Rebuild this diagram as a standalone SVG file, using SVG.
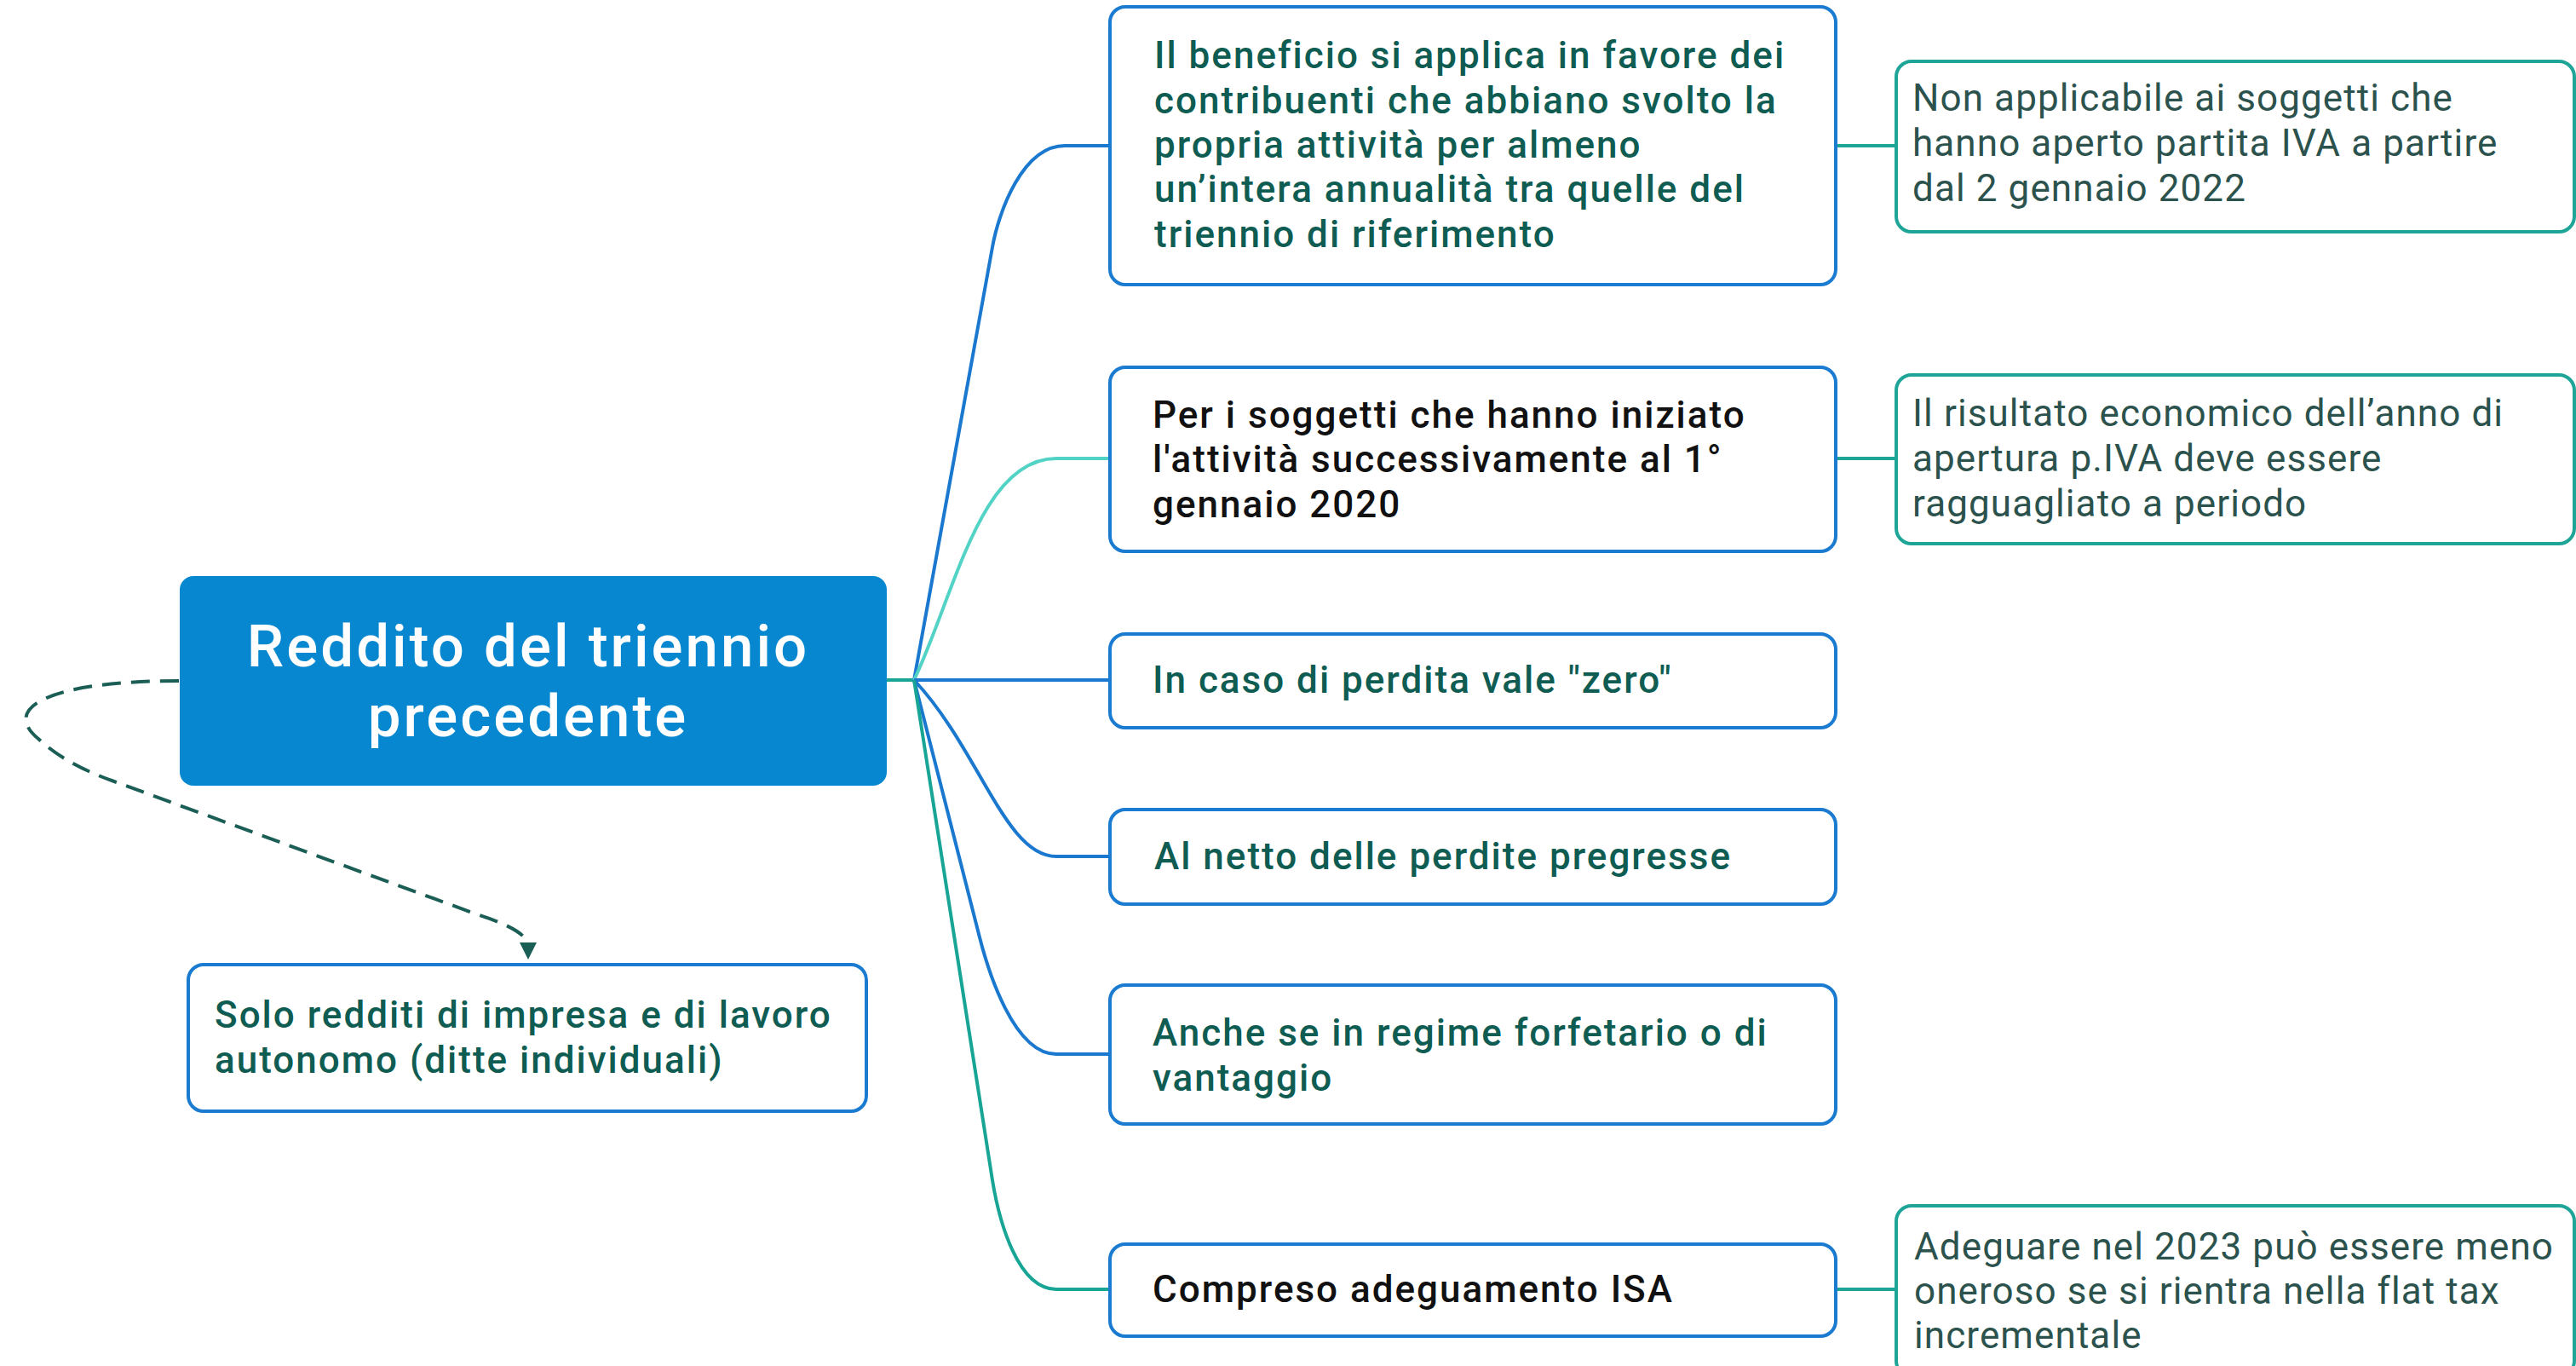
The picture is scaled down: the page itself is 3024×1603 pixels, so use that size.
<svg xmlns="http://www.w3.org/2000/svg" width="3024" height="1603" viewBox="0 0 3024 1603">
<defs>
<style>
.bg{fill:#ffffff}
.box{fill:#ffffff;stroke:#1A7BD0;stroke-width:4}
.rbox{fill:#ffffff;stroke:#1FA597;stroke-width:4}
.central{fill:#0787CF}
.t{font-family:Roboto,"Liberation Sans",sans-serif;font-size:44px;font-weight:500;letter-spacing:2px;fill:#0E5C52}
.tk{fill:#111111}
.tr{font-family:Roboto,"Liberation Sans",sans-serif;font-size:44px;font-weight:400;letter-spacing:1.1px;fill:#2C524D}
.title{font-family:Roboto,"Liberation Sans",sans-serif;font-size:69px;font-weight:500;letter-spacing:3px;fill:#ffffff}
.cb{fill:none;stroke:#1A78CF;stroke-width:4}
.cl{fill:none;stroke:#52D3C6;stroke-width:4}
.ct{fill:none;stroke:#18A595;stroke-width:4}
.cr{fill:none;stroke:#1FA597;stroke-width:4}
.dash{fill:none;stroke:#1B5E55;stroke-width:4;stroke-dasharray:22 12}
</style>
<marker id="arr" viewBox="0 0 10 10" refX="2" refY="5" markerWidth="5" markerHeight="5" orient="auto" markerUnits="strokeWidth">
<path d="M0,0 L10,5 L0,10 Z" fill="#1B5E55"/>
</marker>
</defs>
<rect class="bg" x="0" y="0" width="3024" height="1603"/>

<g id="connectors">
<path class="ct" d="M1041,798 L1073,798"/>
<path class="cb" d="M1073,798 L1165,290 C1172,250 1200,171 1250,171 L1303,171"/>
<path class="cl" d="M1073,798 C1120,700 1150,538 1240,538 L1303,538"/>
<path class="cb" d="M1073,798 L1303,798"/>
<path class="cb" d="M1073,798 C1150,880 1180,1005 1240,1005 L1303,1005"/>
<path class="cb" d="M1073,798 L1150,1100 C1160,1139 1190,1237 1240,1237 L1303,1237"/>
<path class="ct" d="M1073,798 L1165,1385 C1173,1434 1195,1513 1240,1513 L1303,1513"/>
<path class="cr" d="M2155,171 L2226,171"/>
<path class="cr" d="M2155,538 L2226,538"/>
<path class="cr" d="M2155,1513 L2226,1513"/>
<path class="dash" d="M210,799 C60,799 0,830 45,867 C70,890 100,905 134,917 L560,1073 Q620,1092 620,1110" marker-end="url(#arr)"/>
</g>

<g id="central">
<rect class="central" x="211" y="676" width="830" height="246" rx="16"/>
<text class="title" text-anchor="middle"><tspan x="620" y="782">Reddito del triennio</tspan><tspan x="620" y="864">precedente</tspan></text>
</g>

<g id="n1">
<rect class="box" x="1303" y="8" width="852" height="326" rx="18"/>
<text class="t"><tspan x="1355" y="80">Il beneficio si applica in favore dei</tspan><tspan x="1355" y="133">contribuenti che abbiano svolto la</tspan><tspan x="1355" y="185">propria attività per almeno</tspan><tspan x="1355" y="237">un’intera annualità tra quelle del</tspan><tspan x="1355" y="290">triennio di riferimento</tspan></text>
</g>

<g id="n2">
<rect class="box" x="1303" y="431" width="852" height="216" rx="18"/>
<text class="t tk"><tspan x="1353" y="502">Per i soggetti che hanno iniziato</tspan><tspan x="1353" y="554">l'attività successivamente al 1°</tspan><tspan x="1353" y="607">gennaio 2020</tspan></text>
</g>

<g id="n3">
<rect class="box" x="1303" y="744" width="852" height="110" rx="18"/>
<text class="t" x="1353" y="813">In caso di perdita vale "zero"</text>
</g>

<g id="n4">
<rect class="box" x="1303" y="950" width="852" height="111" rx="18"/>
<text class="t" x="1355" y="1020">Al netto delle perdite pregresse</text>
</g>

<g id="n5">
<rect class="box" x="1303" y="1156" width="852" height="163" rx="18"/>
<text class="t"><tspan x="1353" y="1227">Anche se in regime forfetario o di</tspan><tspan x="1353" y="1280">vantaggio</tspan></text>
</g>

<g id="n6">
<rect class="box" x="1303" y="1460" width="852" height="108" rx="18"/>
<text class="t tk" x="1353" y="1528">Compreso adeguamento ISA</text>
</g>

<g id="r1">
<rect class="rbox" x="2226" y="72" width="796" height="200" rx="18"/>
<text class="tr"><tspan x="2245" y="130">Non applicabile ai soggetti che</tspan><tspan x="2245" y="183">hanno aperto partita IVA a partire</tspan><tspan x="2245" y="236">dal 2 gennaio 2022</tspan></text>
</g>

<g id="r2">
<rect class="rbox" x="2226" y="440" width="796" height="198" rx="18"/>
<text class="tr"><tspan x="2245" y="500">Il risultato economico dell’anno di</tspan><tspan x="2245" y="553">apertura p.IVA deve essere</tspan><tspan x="2245" y="606">ragguagliato a periodo</tspan></text>
</g>

<g id="r3">
<rect class="rbox" x="2226" y="1415" width="796" height="200" rx="18"/>
<text class="tr"><tspan x="2247" y="1478">Adeguare nel 2023 può essere meno</tspan><tspan x="2247" y="1530">oneroso se si rientra nella flat tax</tspan><tspan x="2247" y="1582">incrementale</tspan></text>
</g>

<g id="solo">
<rect class="box" x="221" y="1132" width="796" height="172" rx="18"/>
<text class="t"><tspan x="252" y="1206">Solo redditi di impresa e di lavoro</tspan><tspan x="252" y="1259">autonomo (ditte individuali)</tspan></text>
</g>
</svg>
